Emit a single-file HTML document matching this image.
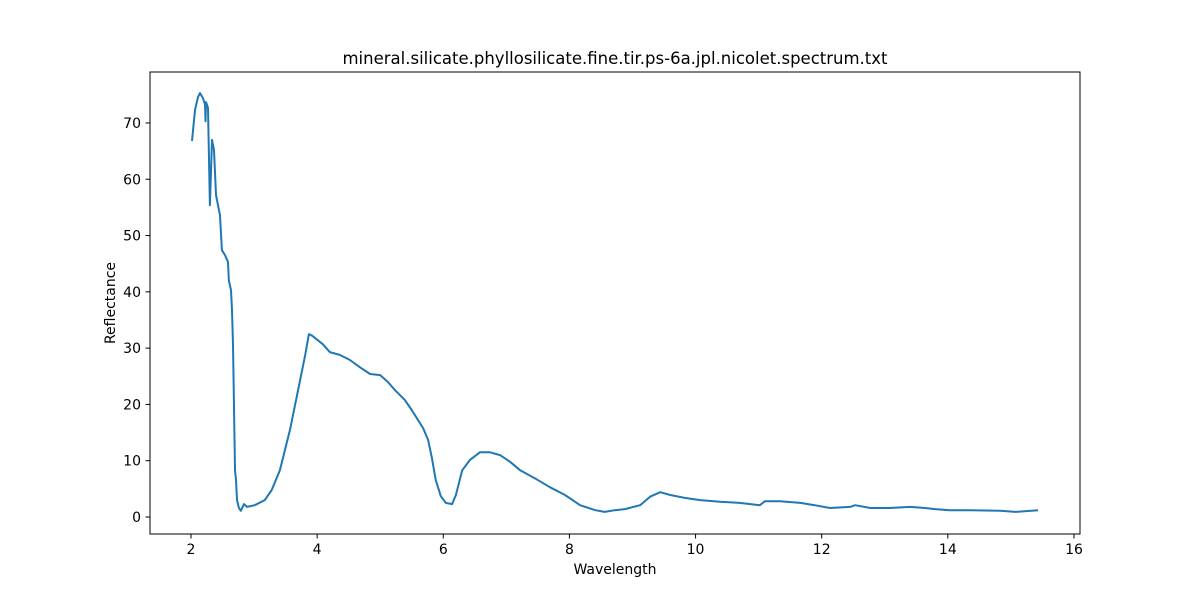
<!DOCTYPE html>
<html><head><meta charset="utf-8"><style>
body{margin:0;background:#fff;font-family:"Liberation Sans","DejaVu Sans",sans-serif}
svg text{font-family:"DejaVu Sans","Liberation Sans",sans-serif}
</style></head><body>
<svg id="chart" width="1200" height="600" xmlns="http://www.w3.org/2000/svg">
<rect width="1200" height="600" fill="#fff"/>
<text x="615" y="64" text-anchor="middle" font-size="16.5">mineral.silicate.phyllosilicate.fine.tir.ps-6a.jpl.nicolet.spectrum.txt</text>
<g id="xt"></g><g id="yt"></g>
<path id="line" fill="none" stroke="#1f77b4" stroke-width="2" stroke-linejoin="round"/>
<rect x="150" y="72" width="930" height="462" fill="none" stroke="#000" stroke-width="1"/>
<text x="615" y="574" text-anchor="middle" font-size="14">Wavelength</text>
<text x="115" y="303" text-anchor="middle" font-size="14" transform="rotate(-90 115 303)">Reflectance</text>
</svg>
<script>
const wavelength=[2.016,2.063,2.111,2.143,2.19,2.222,2.23,2.238,2.27,2.30,2.333,2.365,2.396,2.428,2.46,2.49,2.54,2.587,2.60,2.634,2.65,2.666,2.68,2.698,2.713,2.73,2.76,2.79,2.84,2.89,3.01,3.17,3.28,3.41,3.57,3.73,3.81,3.87,3.92,4.09,4.2,4.36,4.52,4.68,4.84,5.0,5.12,5.23,5.39,5.5,5.6,5.68,5.76,5.82,5.88,5.96,6.04,6.14,6.2,6.3,6.42,6.58,6.74,6.9,7.06,7.22,7.45,7.69,7.93,8.17,8.41,8.56,8.72,8.88,9.12,9.28,9.44,9.6,9.83,10.07,10.39,10.7,11.02,11.1,11.34,11.66,11.89,12.13,12.45,12.53,12.77,13.08,13.4,13.64,13.8,14.03,14.35,14.83,15.07,15.43];
const reflectance=[66.8,72.3,74.6,75.3,74.4,73.3,70.3,73.7,72.7,55.4,67.0,65.2,57.2,55.4,53.6,47.4,46.5,45.3,42.1,40.3,36.8,30.6,20.8,8.3,6.6,3.0,1.6,1.1,2.3,1.8,2.1,3.0,4.8,8.3,15.5,24.3,28.8,32.5,32.2,30.7,29.3,28.8,27.9,26.6,25.4,25.2,24.0,22.6,20.8,19.0,17.2,15.8,13.7,10.5,6.6,3.7,2.5,2.3,3.9,8.3,10.1,11.5,11.5,11.0,9.8,8.3,6.9,5.3,3.9,2.1,1.2,0.9,1.2,1.4,2.1,3.6,4.4,3.9,3.4,3.0,2.7,2.5,2.1,2.8,2.8,2.5,2.1,1.6,1.8,2.1,1.6,1.6,1.8,1.6,1.4,1.2,1.2,1.1,0.9,1.2];
const xTicks=[2,4,6,8,10,12,14,16];
const yTicks=[0,10,20,30,40,50,60,70];
const X=v=>191+(v-2)*63.07, Y=v=>517-v*5.629;
const NS="http://www.w3.org/2000/svg";
const xt=document.getElementById('xt'), yt=document.getElementById('yt');
xTicks.forEach(t=>{
 const l=document.createElementNS(NS,'line');
 
 
 l.setAttribute('x1',X(t));l.setAttribute('x2',X(t));l.setAttribute('y1',534);l.setAttribute('y2',538.5);l.setAttribute('stroke','#000');
 xt.appendChild(l);
 const s=document.createElementNS(NS,'text');
 
 
 s.setAttribute('x',X(t));s.setAttribute('y',554);s.setAttribute('text-anchor','middle');s.setAttribute('font-size','14');
 s.textContent=t;xt.appendChild(s);
});
yTicks.forEach(t=>{
 const l=document.createElementNS(NS,'line');
 
 
 l.setAttribute('x1',145.5);l.setAttribute('x2',150);l.setAttribute('y1',Y(t));l.setAttribute('y2',Y(t));l.setAttribute('stroke','#000');
 yt.appendChild(l);
 const s=document.createElementNS(NS,'text');
 
 
 s.setAttribute('x',141);s.setAttribute('y',Y(t)+5);s.setAttribute('text-anchor','end');s.setAttribute('font-size','14');
 s.textContent=t;yt.appendChild(s);
});
document.getElementById('line').setAttribute('d',wavelength.map((w,i)=>(i?'L':'M')+X(w).toFixed(1)+' '+Y(reflectance[i]).toFixed(1)).join(' '));
</script>
</body></html>
